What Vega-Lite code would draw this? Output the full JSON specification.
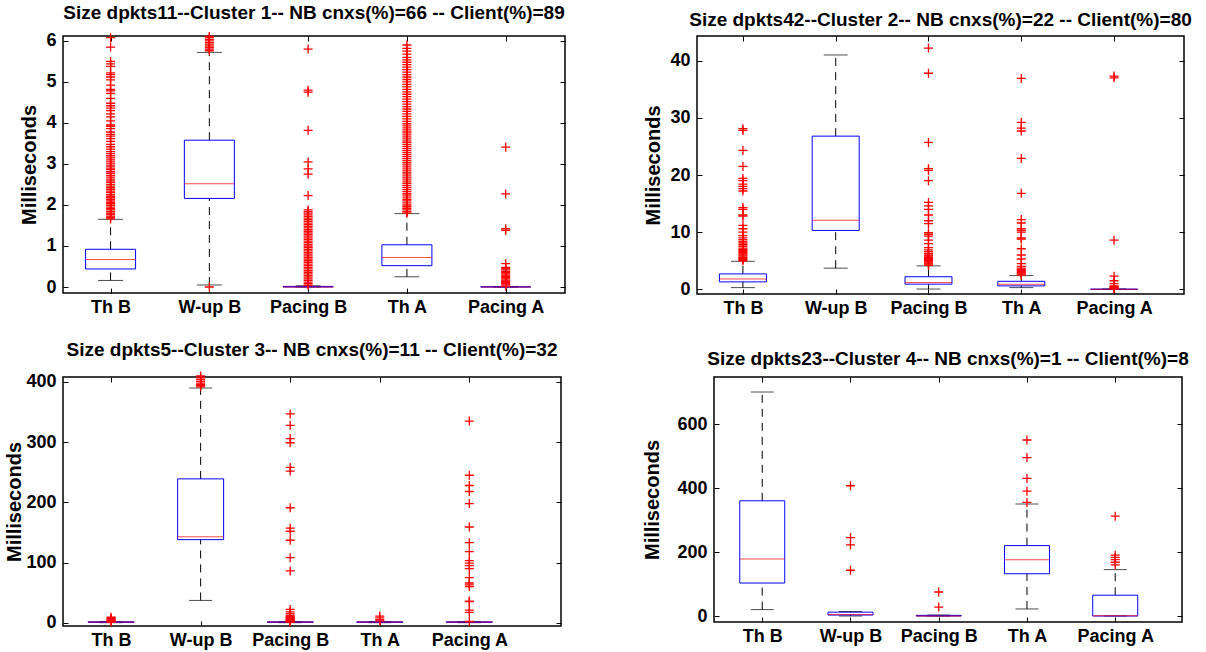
{
  "$schema": "https://vega.github.io/schema/vega-lite/v6.json",
  "padding": {"left": 4, "top": 3, "right": 0, "bottom": 0},
  "spacing": 22,
  "config": {
    "view": {"stroke": "black", "strokeWidth": 1.5},
    "font": "Liberation Sans",
    "axis": {"labelFont": "Liberation Sans", "labelFontSize": 18, "labelFontWeight": "bold", "labelColor": "black", "titleFont": "Liberation Sans", "titleFontSize": 20, "titleFontWeight": "bold", "titleColor": "black", "grid": false, "domain": false, "tickColor": "black", "tickSize": -5, "tickWidth": 1, "labelPadding": 12},
    "axisX": {"labelPadding": 10},
    "axisY": {"titlePadding": 6},
    "title": {"font": "Liberation Sans", "fontSize": 19, "fontWeight": "bold", "color": "black", "anchor": "middle"}
  },
  "datasets": {
    "boxes": [
      {"panel":1,"idx":1,"lo":0.16,"q1":0.44,"med":0.67,"q3":0.92,"hi":1.65},
      {"panel":1,"idx":2,"lo":0.05,"q1":2.16,"med":2.52,"q3":3.58,"hi":5.72},
      {"panel":1,"idx":3,"lo":0,"q1":0,"med":0,"q3":0.015,"hi":0.03},
      {"panel":1,"idx":4,"lo":0.25,"q1":0.52,"med":0.72,"q3":1.03,"hi":1.79},
      {"panel":1,"idx":5,"lo":0,"q1":0,"med":0,"q3":0.005,"hi":0.01},
      {"panel":2,"idx":1,"lo":0.3,"q1":1.3,"med":1.8,"q3":2.7,"hi":4.9},
      {"panel":2,"idx":2,"lo":3.7,"q1":10.3,"med":12.1,"q3":26.8,"hi":41.0},
      {"panel":2,"idx":3,"lo":0.05,"q1":0.9,"med":1.2,"q3":2.2,"hi":4.1},
      {"panel":2,"idx":4,"lo":0.3,"q1":0.6,"med":0.9,"q3":1.4,"hi":2.4},
      {"panel":2,"idx":5,"lo":0,"q1":0,"med":0,"q3":0.02,"hi":0.05},
      {"panel":3,"idx":1,"lo":0,"q1":0.5,"med":1,"q3":1.5,"hi":2},
      {"panel":3,"idx":2,"lo":37,"q1":138,"med":143,"q3":239,"hi":390},
      {"panel":3,"idx":3,"lo":0,"q1":0.5,"med":1,"q3":1.5,"hi":2},
      {"panel":3,"idx":4,"lo":0,"q1":0.5,"med":1,"q3":1.5,"hi":2},
      {"panel":3,"idx":5,"lo":0,"q1":0.5,"med":1,"q3":1.5,"hi":2},
      {"panel":4,"idx":1,"lo":20,"q1":103,"med":178,"q3":360,"hi":700},
      {"panel":4,"idx":2,"lo":0,"q1":3,"med":5,"q3":12,"hi":14},
      {"panel":4,"idx":3,"lo":0,"q1":0,"med":0,"q3":2,"hi":3},
      {"panel":4,"idx":4,"lo":22,"q1":132,"med":176,"q3":220,"hi":350},
      {"panel":4,"idx":5,"lo":0,"q1":0,"med":1,"q3":65,"hi":145}
    ],
    "outliers": [
      {"panel":1,"idx":1,"v":1.66},{"panel":1,"idx":1,"v":1.7},{"panel":1,"idx":1,"v":1.73},{"panel":1,"idx":1,"v":1.77},{"panel":1,"idx":1,"v":1.8},{"panel":1,"idx":1,"v":1.84},{"panel":1,"idx":1,"v":1.88},{"panel":1,"idx":1,"v":1.91},{"panel":1,"idx":1,"v":1.95},{"panel":1,"idx":1,"v":1.99},{"panel":1,"idx":1,"v":2.03},{"panel":1,"idx":1,"v":2.06},{"panel":1,"idx":1,"v":2.1},{"panel":1,"idx":1,"v":2.14},{"panel":1,"idx":1,"v":2.18},{"panel":1,"idx":1,"v":2.21},{"panel":1,"idx":1,"v":2.25},{"panel":1,"idx":1,"v":2.3},{"panel":1,"idx":1,"v":2.34},{"panel":1,"idx":1,"v":2.38},{"panel":1,"idx":1,"v":2.42},{"panel":1,"idx":1,"v":2.46},{"panel":1,"idx":1,"v":2.5},{"panel":1,"idx":1,"v":2.55},{"panel":1,"idx":1,"v":2.59},{"panel":1,"idx":1,"v":2.63},{"panel":1,"idx":1,"v":2.68},{"panel":1,"idx":1,"v":2.72},{"panel":1,"idx":1,"v":2.77},{"panel":1,"idx":1,"v":2.81},{"panel":1,"idx":1,"v":2.86},{"panel":1,"idx":1,"v":2.9},{"panel":1,"idx":1,"v":2.95},{"panel":1,"idx":1,"v":3.0},{"panel":1,"idx":1,"v":3.05},{"panel":1,"idx":1,"v":3.1},{"panel":1,"idx":1,"v":3.15},{"panel":1,"idx":1,"v":3.2},{"panel":1,"idx":1,"v":3.25},{"panel":1,"idx":1,"v":3.3},{"panel":1,"idx":1,"v":3.36},{"panel":1,"idx":1,"v":3.42},{"panel":1,"idx":1,"v":3.48},{"panel":1,"idx":1,"v":3.55},{"panel":1,"idx":1,"v":3.62},{"panel":1,"idx":1,"v":3.68},{"panel":1,"idx":1,"v":3.72},{"panel":1,"idx":1,"v":3.78},{"panel":1,"idx":1,"v":3.86},{"panel":1,"idx":1,"v":3.92},{"panel":1,"idx":1,"v":3.95},{"panel":1,"idx":1,"v":4.05},{"panel":1,"idx":1,"v":4.15},{"panel":1,"idx":1,"v":4.22},{"panel":1,"idx":1,"v":4.3},{"panel":1,"idx":1,"v":4.36},{"panel":1,"idx":1,"v":4.42},{"panel":1,"idx":1,"v":4.48},{"panel":1,"idx":1,"v":4.6},{"panel":1,"idx":1,"v":4.72},{"panel":1,"idx":1,"v":4.78},{"panel":1,"idx":1,"v":4.82},{"panel":1,"idx":1,"v":4.92},{"panel":1,"idx":1,"v":5.05},{"panel":1,"idx":1,"v":5.12},{"panel":1,"idx":1,"v":5.18},{"panel":1,"idx":1,"v":5.22},{"panel":1,"idx":1,"v":5.38},{"panel":1,"idx":1,"v":5.44},{"panel":1,"idx":1,"v":5.5},{"panel":1,"idx":1,"v":5.85},{"panel":1,"idx":1,"v":6.08},
      {"panel":1,"idx":2,"v":0.0},{"panel":1,"idx":2,"v":5.76},{"panel":1,"idx":2,"v":5.8},{"panel":1,"idx":2,"v":5.84},{"panel":1,"idx":2,"v":5.88},{"panel":1,"idx":2,"v":5.92},{"panel":1,"idx":2,"v":5.96},{"panel":1,"idx":2,"v":6.0},{"panel":1,"idx":2,"v":6.04},{"panel":1,"idx":2,"v":6.08},{"panel":1,"idx":2,"v":6.11},
      {"panel":1,"idx":3,"v":0.04},{"panel":1,"idx":3,"v":0.08},{"panel":1,"idx":3,"v":0.12},{"panel":1,"idx":3,"v":0.16},{"panel":1,"idx":3,"v":0.2},{"panel":1,"idx":3,"v":0.24},{"panel":1,"idx":3,"v":0.28},{"panel":1,"idx":3,"v":0.32},{"panel":1,"idx":3,"v":0.36},{"panel":1,"idx":3,"v":0.4},{"panel":1,"idx":3,"v":0.44},{"panel":1,"idx":3,"v":0.48},{"panel":1,"idx":3,"v":0.52},{"panel":1,"idx":3,"v":0.56},{"panel":1,"idx":3,"v":0.6},{"panel":1,"idx":3,"v":0.64},{"panel":1,"idx":3,"v":0.68},{"panel":1,"idx":3,"v":0.72},{"panel":1,"idx":3,"v":0.76},{"panel":1,"idx":3,"v":0.8},{"panel":1,"idx":3,"v":0.84},{"panel":1,"idx":3,"v":0.88},{"panel":1,"idx":3,"v":0.92},{"panel":1,"idx":3,"v":0.96},{"panel":1,"idx":3,"v":1.0},{"panel":1,"idx":3,"v":1.04},{"panel":1,"idx":3,"v":1.08},{"panel":1,"idx":3,"v":1.12},{"panel":1,"idx":3,"v":1.16},{"panel":1,"idx":3,"v":1.2},{"panel":1,"idx":3,"v":1.24},{"panel":1,"idx":3,"v":1.28},{"panel":1,"idx":3,"v":1.32},{"panel":1,"idx":3,"v":1.36},{"panel":1,"idx":3,"v":1.4},{"panel":1,"idx":3,"v":1.44},{"panel":1,"idx":3,"v":1.48},{"panel":1,"idx":3,"v":1.52},{"panel":1,"idx":3,"v":1.56},{"panel":1,"idx":3,"v":1.6},{"panel":1,"idx":3,"v":1.64},{"panel":1,"idx":3,"v":1.68},{"panel":1,"idx":3,"v":1.72},{"panel":1,"idx":3,"v":1.76},{"panel":1,"idx":3,"v":1.8},{"panel":1,"idx":3,"v":1.84},{"panel":1,"idx":3,"v":1.88},{"panel":1,"idx":3,"v":2.23},{"panel":1,"idx":3,"v":2.75},{"panel":1,"idx":3,"v":2.88},{"panel":1,"idx":3,"v":3.05},{"panel":1,"idx":3,"v":3.82},{"panel":1,"idx":3,"v":4.75},{"panel":1,"idx":3,"v":4.8},{"panel":1,"idx":3,"v":5.8},
      {"panel":1,"idx":4,"v":1.8},{"panel":1,"idx":4,"v":1.84},{"panel":1,"idx":4,"v":1.88},{"panel":1,"idx":4,"v":1.92},{"panel":1,"idx":4,"v":1.96},{"panel":1,"idx":4,"v":2.0},{"panel":1,"idx":4,"v":2.05},{"panel":1,"idx":4,"v":2.1},{"panel":1,"idx":4,"v":2.14},{"panel":1,"idx":4,"v":2.19},{"panel":1,"idx":4,"v":2.24},{"panel":1,"idx":4,"v":2.28},{"panel":1,"idx":4,"v":2.33},{"panel":1,"idx":4,"v":2.38},{"panel":1,"idx":4,"v":2.43},{"panel":1,"idx":4,"v":2.48},{"panel":1,"idx":4,"v":2.53},{"panel":1,"idx":4,"v":2.58},{"panel":1,"idx":4,"v":2.63},{"panel":1,"idx":4,"v":2.68},{"panel":1,"idx":4,"v":2.73},{"panel":1,"idx":4,"v":2.78},{"panel":1,"idx":4,"v":2.83},{"panel":1,"idx":4,"v":2.88},{"panel":1,"idx":4,"v":2.93},{"panel":1,"idx":4,"v":2.98},{"panel":1,"idx":4,"v":3.03},{"panel":1,"idx":4,"v":3.08},{"panel":1,"idx":4,"v":3.13},{"panel":1,"idx":4,"v":3.18},{"panel":1,"idx":4,"v":3.23},{"panel":1,"idx":4,"v":3.28},{"panel":1,"idx":4,"v":3.33},{"panel":1,"idx":4,"v":3.38},{"panel":1,"idx":4,"v":3.43},{"panel":1,"idx":4,"v":3.48},{"panel":1,"idx":4,"v":3.53},{"panel":1,"idx":4,"v":3.58},{"panel":1,"idx":4,"v":3.63},{"panel":1,"idx":4,"v":3.68},{"panel":1,"idx":4,"v":3.73},{"panel":1,"idx":4,"v":3.78},{"panel":1,"idx":4,"v":3.83},{"panel":1,"idx":4,"v":3.88},{"panel":1,"idx":4,"v":3.93},{"panel":1,"idx":4,"v":3.98},{"panel":1,"idx":4,"v":4.04},{"panel":1,"idx":4,"v":4.1},{"panel":1,"idx":4,"v":4.16},{"panel":1,"idx":4,"v":4.22},{"panel":1,"idx":4,"v":4.28},{"panel":1,"idx":4,"v":4.34},{"panel":1,"idx":4,"v":4.4},{"panel":1,"idx":4,"v":4.46},{"panel":1,"idx":4,"v":4.52},{"panel":1,"idx":4,"v":4.58},{"panel":1,"idx":4,"v":4.64},{"panel":1,"idx":4,"v":4.7},{"panel":1,"idx":4,"v":4.76},{"panel":1,"idx":4,"v":4.82},{"panel":1,"idx":4,"v":4.88},{"panel":1,"idx":4,"v":4.94},{"panel":1,"idx":4,"v":5.0},{"panel":1,"idx":4,"v":5.06},{"panel":1,"idx":4,"v":5.12},{"panel":1,"idx":4,"v":5.18},{"panel":1,"idx":4,"v":5.24},{"panel":1,"idx":4,"v":5.3},{"panel":1,"idx":4,"v":5.36},{"panel":1,"idx":4,"v":5.42},{"panel":1,"idx":4,"v":5.48},{"panel":1,"idx":4,"v":5.54},{"panel":1,"idx":4,"v":5.6},{"panel":1,"idx":4,"v":5.68},{"panel":1,"idx":4,"v":5.75},{"panel":1,"idx":4,"v":5.82},{"panel":1,"idx":4,"v":5.9},
      {"panel":1,"idx":5,"v":0.02},{"panel":1,"idx":5,"v":0.05},{"panel":1,"idx":5,"v":0.08},{"panel":1,"idx":5,"v":0.11},{"panel":1,"idx":5,"v":0.14},{"panel":1,"idx":5,"v":0.17},{"panel":1,"idx":5,"v":0.2},{"panel":1,"idx":5,"v":0.23},{"panel":1,"idx":5,"v":0.26},{"panel":1,"idx":5,"v":0.29},{"panel":1,"idx":5,"v":0.32},{"panel":1,"idx":5,"v":0.35},{"panel":1,"idx":5,"v":0.38},{"panel":1,"idx":5,"v":0.42},{"panel":1,"idx":5,"v":0.45},{"panel":1,"idx":5,"v":0.48},{"panel":1,"idx":5,"v":0.57},{"panel":1,"idx":5,"v":1.38},{"panel":1,"idx":5,"v":1.42},{"panel":1,"idx":5,"v":2.27},{"panel":1,"idx":5,"v":3.41},
      {"panel":2,"idx":1,"v":5.0},{"panel":2,"idx":1,"v":5.2},{"panel":2,"idx":1,"v":5.4},{"panel":2,"idx":1,"v":5.6},{"panel":2,"idx":1,"v":5.8},{"panel":2,"idx":1,"v":6.0},{"panel":2,"idx":1,"v":6.2},{"panel":2,"idx":1,"v":6.4},{"panel":2,"idx":1,"v":6.6},{"panel":2,"idx":1,"v":6.8},{"panel":2,"idx":1,"v":7.0},{"panel":2,"idx":1,"v":7.2},{"panel":2,"idx":1,"v":7.5},{"panel":2,"idx":1,"v":7.8},{"panel":2,"idx":1,"v":8.1},{"panel":2,"idx":1,"v":8.4},{"panel":2,"idx":1,"v":8.7},{"panel":2,"idx":1,"v":9.0},{"panel":2,"idx":1,"v":9.4},{"panel":2,"idx":1,"v":10.0},{"panel":2,"idx":1,"v":10.6},{"panel":2,"idx":1,"v":11.2},{"panel":2,"idx":1,"v":12.8},{"panel":2,"idx":1,"v":13.0},{"panel":2,"idx":1,"v":14.0},{"panel":2,"idx":1,"v":14.3},{"panel":2,"idx":1,"v":17.2},{"panel":2,"idx":1,"v":17.6},{"panel":2,"idx":1,"v":18.0},{"panel":2,"idx":1,"v":18.4},{"panel":2,"idx":1,"v":19.0},{"panel":2,"idx":1,"v":19.4},{"panel":2,"idx":1,"v":21.5},{"panel":2,"idx":1,"v":24.3},{"panel":2,"idx":1,"v":27.8},{"panel":2,"idx":1,"v":28.1},
      {"panel":2,"idx":3,"v":4.2},{"panel":2,"idx":3,"v":4.4},{"panel":2,"idx":3,"v":4.6},{"panel":2,"idx":3,"v":4.8},{"panel":2,"idx":3,"v":5.0},{"panel":2,"idx":3,"v":5.2},{"panel":2,"idx":3,"v":5.4},{"panel":2,"idx":3,"v":5.6},{"panel":2,"idx":3,"v":5.8},{"panel":2,"idx":3,"v":6.0},{"panel":2,"idx":3,"v":6.3},{"panel":2,"idx":3,"v":6.6},{"panel":2,"idx":3,"v":6.9},{"panel":2,"idx":3,"v":7.3},{"panel":2,"idx":3,"v":8.0},{"panel":2,"idx":3,"v":8.6},{"panel":2,"idx":3,"v":9.3},{"panel":2,"idx":3,"v":9.6},{"panel":2,"idx":3,"v":9.9},{"panel":2,"idx":3,"v":11.5},{"panel":2,"idx":3,"v":12.0},{"panel":2,"idx":3,"v":13.0},{"panel":2,"idx":3,"v":14.0},{"panel":2,"idx":3,"v":14.6},{"panel":2,"idx":3,"v":15.2},{"panel":2,"idx":3,"v":19.0},{"panel":2,"idx":3,"v":20.8},{"panel":2,"idx":3,"v":21.1},{"panel":2,"idx":3,"v":25.7},{"panel":2,"idx":3,"v":37.8},{"panel":2,"idx":3,"v":42.2},
      {"panel":2,"idx":4,"v":2.5},{"panel":2,"idx":4,"v":2.7},{"panel":2,"idx":4,"v":2.9},{"panel":2,"idx":4,"v":3.1},{"panel":2,"idx":4,"v":3.3},{"panel":2,"idx":4,"v":3.5},{"panel":2,"idx":4,"v":3.7},{"panel":2,"idx":4,"v":4.0},{"panel":2,"idx":4,"v":4.5},{"panel":2,"idx":4,"v":5.3},{"panel":2,"idx":4,"v":6.0},{"panel":2,"idx":4,"v":7.1},{"panel":2,"idx":4,"v":8.8},{"panel":2,"idx":4,"v":9.0},{"panel":2,"idx":4,"v":10.0},{"panel":2,"idx":4,"v":10.3},{"panel":2,"idx":4,"v":10.6},{"panel":2,"idx":4,"v":11.6},{"panel":2,"idx":4,"v":12.2},{"panel":2,"idx":4,"v":16.8},{"panel":2,"idx":4,"v":22.9},{"panel":2,"idx":4,"v":27.7},{"panel":2,"idx":4,"v":28.2},{"panel":2,"idx":4,"v":29.2},{"panel":2,"idx":4,"v":36.9},
      {"panel":2,"idx":5,"v":0.1},{"panel":2,"idx":5,"v":0.2},{"panel":2,"idx":5,"v":0.3},{"panel":2,"idx":5,"v":0.4},{"panel":2,"idx":5,"v":0.5},{"panel":2,"idx":5,"v":0.6},{"panel":2,"idx":5,"v":1.0},{"panel":2,"idx":5,"v":1.5},{"panel":2,"idx":5,"v":2.3},{"panel":2,"idx":5,"v":8.6},{"panel":2,"idx":5,"v":37.0},{"panel":2,"idx":5,"v":37.3},
      {"panel":3,"idx":1,"v":1},{"panel":3,"idx":1,"v":2},{"panel":3,"idx":1,"v":3},{"panel":3,"idx":1,"v":4},{"panel":3,"idx":1,"v":5},{"panel":3,"idx":1,"v":6},{"panel":3,"idx":1,"v":7},{"panel":3,"idx":1,"v":9},
      {"panel":3,"idx":2,"v":392},{"panel":3,"idx":2,"v":394},{"panel":3,"idx":2,"v":396},{"panel":3,"idx":2,"v":398},{"panel":3,"idx":2,"v":401},{"panel":3,"idx":2,"v":404},{"panel":3,"idx":2,"v":407},{"panel":3,"idx":2,"v":410},
      {"panel":3,"idx":3,"v":1},{"panel":3,"idx":3,"v":2},{"panel":3,"idx":3,"v":3},{"panel":3,"idx":3,"v":4},{"panel":3,"idx":3,"v":5},{"panel":3,"idx":3,"v":6},{"panel":3,"idx":3,"v":7},{"panel":3,"idx":3,"v":8},{"panel":3,"idx":3,"v":9},{"panel":3,"idx":3,"v":10},{"panel":3,"idx":3,"v":12},{"panel":3,"idx":3,"v":15},{"panel":3,"idx":3,"v":18},{"panel":3,"idx":3,"v":22},{"panel":3,"idx":3,"v":86},{"panel":3,"idx":3,"v":108},{"panel":3,"idx":3,"v":137},{"panel":3,"idx":3,"v":152},{"panel":3,"idx":3,"v":157},{"panel":3,"idx":3,"v":191},{"panel":3,"idx":3,"v":252},{"panel":3,"idx":3,"v":258},{"panel":3,"idx":3,"v":299},{"panel":3,"idx":3,"v":306},{"panel":3,"idx":3,"v":328},{"panel":3,"idx":3,"v":347},
      {"panel":3,"idx":4,"v":3},{"panel":3,"idx":4,"v":5},{"panel":3,"idx":4,"v":8},{"panel":3,"idx":4,"v":11},
      {"panel":3,"idx":5,"v":2},{"panel":3,"idx":5,"v":17},{"panel":3,"idx":5,"v":21},{"panel":3,"idx":5,"v":35},{"panel":3,"idx":5,"v":36},{"panel":3,"idx":5,"v":60},{"panel":3,"idx":5,"v":63},{"panel":3,"idx":5,"v":66},{"panel":3,"idx":5,"v":75},{"panel":3,"idx":5,"v":90},{"panel":3,"idx":5,"v":95},{"panel":3,"idx":5,"v":99},{"panel":3,"idx":5,"v":103},{"panel":3,"idx":5,"v":118},{"panel":3,"idx":5,"v":133},{"panel":3,"idx":5,"v":159},{"panel":3,"idx":5,"v":198},{"panel":3,"idx":5,"v":218},{"panel":3,"idx":5,"v":228},{"panel":3,"idx":5,"v":245},{"panel":3,"idx":5,"v":335},
      {"panel":4,"idx":2,"v":143},{"panel":4,"idx":2,"v":222},{"panel":4,"idx":2,"v":245},{"panel":4,"idx":2,"v":407},
      {"panel":4,"idx":3,"v":28},{"panel":4,"idx":3,"v":75},
      {"panel":4,"idx":4,"v":355},{"panel":4,"idx":4,"v":390},{"panel":4,"idx":4,"v":430},{"panel":4,"idx":4,"v":495},{"panel":4,"idx":4,"v":550},
      {"panel":4,"idx":5,"v":160},{"panel":4,"idx":5,"v":168},{"panel":4,"idx":5,"v":176},{"panel":4,"idx":5,"v":183},{"panel":4,"idx":5,"v":190},{"panel":4,"idx":5,"v":312}
    ]
  },
  "vconcat": [
    {
      "spacing": 76,
      "hconcat": [
        {
          "width": 502, "height": 257,
          "title": {"text": "Size dpkts11--Cluster 1-- NB cnxs(%)=66 -- Client(%)=89", "offset": 6},
          "encoding": {"x": {"field": "idx", "type": "quantitative", "scale": {"domain": [0.569, 5.55], "nice": false, "zero": false}, "axis": null}},
          "resolve": {"axis": {"x": "independent", "y": "independent"}},
          "layer": [
            {"data": {"name": "boxes"}, "transform": [{"filter": "datum.panel == 1"}], "mark": {"type": "rule", "color": "black", "strokeDash": [8, 6], "strokeWidth": 1},
             "encoding": {"x": {"field": "idx", "type": "quantitative", "scale": {"domain": [0.569, 5.55], "nice": false, "zero": false}, "axis": {"values": [1, 2, 3, 4, 5], "labelExpr": "['', 'Th B', 'W-up B', 'Pacing B', 'Th A', 'Pacing A'][datum.value]", "title": null}},
                          "y": {"field": "lo", "type": "quantitative", "scale": {"domain": [-0.146, 6.12], "nice": false, "zero": false}, "axis": {"values": [0, 1, 2, 3, 4, 5, 6], "title": "Milliseconds"}}, "y2": {"field": "q1"}}},
            {"data": {"name": "boxes"}, "transform": [{"filter": "datum.panel == 1"}], "mark": {"type": "rule", "color": "black", "strokeDash": [8, 6], "strokeWidth": 1},
             "encoding": {"y": {"field": "q3", "type": "quantitative", "axis": null}, "y2": {"field": "hi"}}},
            {"data": {"name": "boxes"}, "transform": [{"filter": "datum.panel == 1"}], "mark": {"type": "tick", "orient": "horizontal", "color": "black", "size": 25, "thickness": 1},
             "encoding": {"y": {"field": "lo", "type": "quantitative", "axis": null}}},
            {"data": {"name": "boxes"}, "transform": [{"filter": "datum.panel == 1"}], "mark": {"type": "tick", "orient": "horizontal", "color": "black", "size": 25, "thickness": 1},
             "encoding": {"y": {"field": "hi", "type": "quantitative", "axis": null}}},
            {"data": {"name": "boxes"}, "transform": [{"filter": "datum.panel == 1"}], "mark": {"type": "bar", "orient": "vertical", "size": 50, "fill": "transparent", "stroke": "blue", "strokeWidth": 1},
             "encoding": {"y": {"field": "q1", "type": "quantitative", "axis": null}, "y2": {"field": "q3"}}},
            {"data": {"name": "boxes"}, "transform": [{"filter": "datum.panel == 1"}], "mark": {"type": "tick", "orient": "horizontal", "color": "red", "size": 50, "thickness": 1},
             "encoding": {"y": {"field": "med", "type": "quantitative", "axis": null}}},
            {"data": {"name": "outliers"}, "transform": [{"filter": "datum.panel == 1"}], "mark": {"type": "point", "shape": "M-1,0H1M0,-1V1", "filled": false, "color": "red", "strokeWidth": 1.3, "size": 81, "opacity": 1},
             "encoding": {"y": {"field": "v", "type": "quantitative", "axis": null}}},
            {"data": {"name": "boxes"}, "transform": [{"filter": "datum.panel == 1"}], "mark": {"type": "point", "opacity": 0},
             "encoding": {"x": {"field": "idx", "type": "quantitative", "axis": {"orient": "top", "values": [1, 2, 3, 4, 5], "labels": false, "title": null}},
                          "y": {"field": "lo", "type": "quantitative", "axis": {"orient": "right", "values": [0, 1, 2, 3, 4, 5, 6], "labels": false, "title": null}}}}
          ]
        },
        {
          "width": 487, "height": 258,
          "title": {"text": "Size dpkts42--Cluster 2-- NB cnxs(%)=22 -- Client(%)=80", "offset": 6},
          "encoding": {"x": {"field": "idx", "type": "quantitative", "scale": {"domain": [0.559, 5.70], "nice": false, "zero": false}, "axis": null}},
          "resolve": {"axis": {"x": "independent", "y": "independent"}},
          "layer": [
            {"data": {"name": "boxes"}, "transform": [{"filter": "datum.panel == 2"}], "mark": {"type": "rule", "color": "black", "strokeDash": [8, 6], "strokeWidth": 1},
             "encoding": {"x": {"field": "idx", "type": "quantitative", "scale": {"domain": [0.559, 5.70], "nice": false, "zero": false}, "axis": {"values": [1, 2, 3, 4, 5], "labelExpr": "['', 'Th B', 'W-up B', 'Pacing B', 'Th A', 'Pacing A'][datum.value]", "title": null}},
                          "y": {"field": "lo", "type": "quantitative", "scale": {"domain": [-0.82, 44.32], "nice": false, "zero": false}, "axis": {"values": [0, 10, 20, 30, 40], "title": "Milliseconds"}}, "y2": {"field": "q1"}}},
            {"data": {"name": "boxes"}, "transform": [{"filter": "datum.panel == 2"}], "mark": {"type": "rule", "color": "black", "strokeDash": [8, 6], "strokeWidth": 1},
             "encoding": {"y": {"field": "q3", "type": "quantitative", "axis": null}, "y2": {"field": "hi"}}},
            {"data": {"name": "boxes"}, "transform": [{"filter": "datum.panel == 2"}], "mark": {"type": "tick", "orient": "horizontal", "color": "black", "size": 24, "thickness": 1},
             "encoding": {"y": {"field": "lo", "type": "quantitative", "axis": null}}},
            {"data": {"name": "boxes"}, "transform": [{"filter": "datum.panel == 2"}], "mark": {"type": "tick", "orient": "horizontal", "color": "black", "size": 24, "thickness": 1},
             "encoding": {"y": {"field": "hi", "type": "quantitative", "axis": null}}},
            {"data": {"name": "boxes"}, "transform": [{"filter": "datum.panel == 2"}], "mark": {"type": "bar", "orient": "vertical", "size": 47, "fill": "transparent", "stroke": "blue", "strokeWidth": 1},
             "encoding": {"y": {"field": "q1", "type": "quantitative", "axis": null}, "y2": {"field": "q3"}}},
            {"data": {"name": "boxes"}, "transform": [{"filter": "datum.panel == 2"}], "mark": {"type": "tick", "orient": "horizontal", "color": "red", "size": 47, "thickness": 1},
             "encoding": {"y": {"field": "med", "type": "quantitative", "axis": null}}},
            {"data": {"name": "outliers"}, "transform": [{"filter": "datum.panel == 2"}], "mark": {"type": "point", "shape": "M-1,0H1M0,-1V1", "filled": false, "color": "red", "strokeWidth": 1.3, "size": 81, "opacity": 1},
             "encoding": {"y": {"field": "v", "type": "quantitative", "axis": null}}},
            {"data": {"name": "boxes"}, "transform": [{"filter": "datum.panel == 2"}], "mark": {"type": "point", "opacity": 0},
             "encoding": {"x": {"field": "idx", "type": "quantitative", "axis": {"orient": "top", "values": [1, 2, 3, 4, 5], "labels": false, "title": null}},
                          "y": {"field": "lo", "type": "quantitative", "axis": {"orient": "right", "values": [0, 10, 20, 30, 40], "labels": false, "title": null}}}}
          ]
        }
      ]
    },
    {
      "spacing": 79,
      "hconcat": [
        {
          "width": 498, "height": 249,
          "title": {"text": "Size dpkts5--Cluster 3-- NB cnxs(%)=11 -- Client(%)=32", "offset": 9},
          "encoding": {"x": {"field": "idx", "type": "quantitative", "scale": {"domain": [0.519, 5.968], "nice": false, "zero": false}, "axis": null}},
          "resolve": {"axis": {"x": "independent", "y": "independent"}},
          "layer": [
            {"data": {"name": "boxes"}, "transform": [{"filter": "datum.panel == 3"}], "mark": {"type": "rule", "color": "black", "strokeDash": [8, 6], "strokeWidth": 1},
             "encoding": {"x": {"field": "idx", "type": "quantitative", "scale": {"domain": [0.519, 5.968], "nice": false, "zero": false}, "axis": {"values": [1, 2, 3, 4, 5], "labelExpr": "['', 'Th B', 'W-up B', 'Pacing B', 'Th A', 'Pacing A'][datum.value]", "title": null}},
                          "y": {"field": "lo", "type": "quantitative", "scale": {"domain": [-5.5, 408.3], "nice": false, "zero": false}, "axis": {"values": [0, 100, 200, 300, 400], "title": "Milliseconds", "titlePadding": 1}}, "y2": {"field": "q1"}}},
            {"data": {"name": "boxes"}, "transform": [{"filter": "datum.panel == 3"}], "mark": {"type": "rule", "color": "black", "strokeDash": [8, 6], "strokeWidth": 1},
             "encoding": {"y": {"field": "q3", "type": "quantitative", "axis": null}, "y2": {"field": "hi"}}},
            {"data": {"name": "boxes"}, "transform": [{"filter": "datum.panel == 3"}], "mark": {"type": "tick", "orient": "horizontal", "color": "black", "size": 23, "thickness": 1},
             "encoding": {"y": {"field": "lo", "type": "quantitative", "axis": null}}},
            {"data": {"name": "boxes"}, "transform": [{"filter": "datum.panel == 3"}], "mark": {"type": "tick", "orient": "horizontal", "color": "black", "size": 23, "thickness": 1},
             "encoding": {"y": {"field": "hi", "type": "quantitative", "axis": null}}},
            {"data": {"name": "boxes"}, "transform": [{"filter": "datum.panel == 3"}], "mark": {"type": "bar", "orient": "vertical", "size": 46, "fill": "transparent", "stroke": "blue", "strokeWidth": 1},
             "encoding": {"y": {"field": "q1", "type": "quantitative", "axis": null}, "y2": {"field": "q3"}}},
            {"data": {"name": "boxes"}, "transform": [{"filter": "datum.panel == 3"}], "mark": {"type": "tick", "orient": "horizontal", "color": "red", "size": 46, "thickness": 1},
             "encoding": {"y": {"field": "med", "type": "quantitative", "axis": null}}},
            {"data": {"name": "outliers"}, "transform": [{"filter": "datum.panel == 3"}], "mark": {"type": "point", "shape": "M-1,0H1M0,-1V1", "filled": false, "color": "red", "strokeWidth": 1.3, "size": 81, "opacity": 1},
             "encoding": {"y": {"field": "v", "type": "quantitative", "axis": null}}},
            {"data": {"name": "boxes"}, "transform": [{"filter": "datum.panel == 3"}], "mark": {"type": "point", "opacity": 0},
             "encoding": {"x": {"field": "idx", "type": "quantitative", "axis": {"orient": "top", "values": [1, 2, 3, 4, 5], "labels": false, "title": null}},
                          "y": {"field": "lo", "type": "quantitative", "axis": {"orient": "right", "values": [0, 100, 200, 300, 400], "labels": false, "title": null}}}}
          ]
        },
        {
          "width": 468, "height": 245,
          "title": {"text": "Size dpkts23--Cluster 4-- NB cnxs(%)=1 -- Client(%)=8", "offset": 8},
          "encoding": {"x": {"field": "idx", "type": "quantitative", "scale": {"domain": [0.51, 5.70], "nice": false, "zero": false}, "axis": null}},
          "resolve": {"axis": {"x": "independent", "y": "independent"}},
          "layer": [
            {"data": {"name": "boxes"}, "transform": [{"filter": "datum.panel == 4"}], "mark": {"type": "rule", "color": "black", "strokeDash": [8, 6], "strokeWidth": 1},
             "encoding": {"x": {"field": "idx", "type": "quantitative", "scale": {"domain": [0.51, 5.70], "nice": false, "zero": false}, "axis": {"values": [1, 2, 3, 4, 5], "labelExpr": "['', 'Th B', 'W-up B', 'Pacing B', 'Th A', 'Pacing A'][datum.value]", "title": null}},
                          "y": {"field": "lo", "type": "quantitative", "scale": {"domain": [-18.75, 746.9], "nice": false, "zero": false}, "axis": {"values": [0, 200, 400, 600], "title": "Milliseconds", "titlePadding": 14}}, "y2": {"field": "q1"}}},
            {"data": {"name": "boxes"}, "transform": [{"filter": "datum.panel == 4"}], "mark": {"type": "rule", "color": "black", "strokeDash": [8, 6], "strokeWidth": 1},
             "encoding": {"y": {"field": "q3", "type": "quantitative", "axis": null}, "y2": {"field": "hi"}}},
            {"data": {"name": "boxes"}, "transform": [{"filter": "datum.panel == 4"}], "mark": {"type": "tick", "orient": "horizontal", "color": "black", "size": 23, "thickness": 1},
             "encoding": {"y": {"field": "lo", "type": "quantitative", "axis": null}}},
            {"data": {"name": "boxes"}, "transform": [{"filter": "datum.panel == 4"}], "mark": {"type": "tick", "orient": "horizontal", "color": "black", "size": 23, "thickness": 1},
             "encoding": {"y": {"field": "hi", "type": "quantitative", "axis": null}}},
            {"data": {"name": "boxes"}, "transform": [{"filter": "datum.panel == 4"}], "mark": {"type": "bar", "orient": "vertical", "size": 45, "fill": "transparent", "stroke": "blue", "strokeWidth": 1},
             "encoding": {"y": {"field": "q1", "type": "quantitative", "axis": null}, "y2": {"field": "q3"}}},
            {"data": {"name": "boxes"}, "transform": [{"filter": "datum.panel == 4"}], "mark": {"type": "tick", "orient": "horizontal", "color": "red", "size": 45, "thickness": 1},
             "encoding": {"y": {"field": "med", "type": "quantitative", "axis": null}}},
            {"data": {"name": "outliers"}, "transform": [{"filter": "datum.panel == 4"}], "mark": {"type": "point", "shape": "M-1,0H1M0,-1V1", "filled": false, "color": "red", "strokeWidth": 1.3, "size": 81, "opacity": 1},
             "encoding": {"y": {"field": "v", "type": "quantitative", "axis": null}}},
            {"data": {"name": "boxes"}, "transform": [{"filter": "datum.panel == 4"}], "mark": {"type": "point", "opacity": 0},
             "encoding": {"x": {"field": "idx", "type": "quantitative", "axis": {"orient": "top", "values": [1, 2, 3, 4, 5], "labels": false, "title": null}},
                          "y": {"field": "lo", "type": "quantitative", "axis": {"orient": "right", "values": [0, 200, 400, 600], "labels": false, "title": null}}}}
          ]
        }
      ]
    }
  ]
}
